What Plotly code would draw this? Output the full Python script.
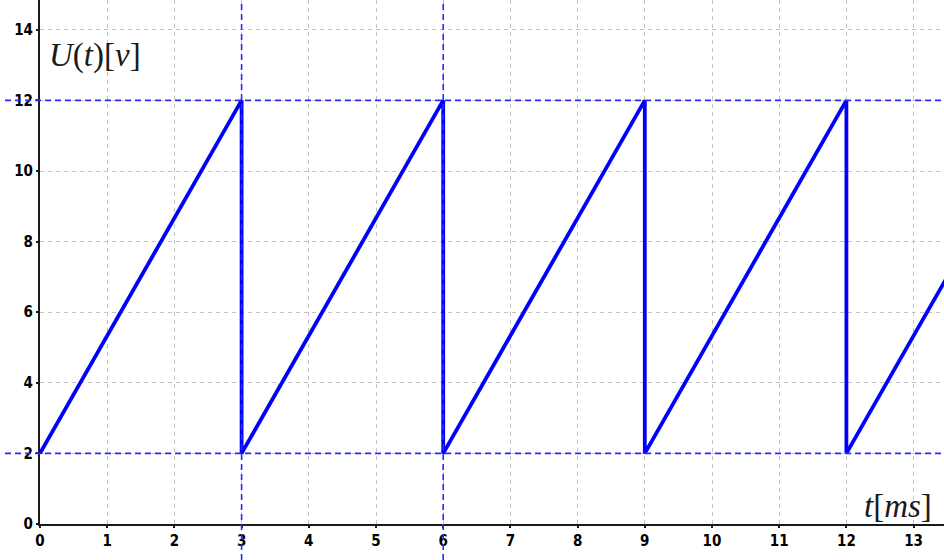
import plotly.graph_objects as go

# Sawtooth voltage data (t in ms, U in V)
t_ms = [0, 3, 3, 6, 6, 9, 9, 12, 12, 15]
u_v = [2, 12, 2, 12, 2, 12, 2, 12, 2, 12]

x_ticks = list(range(0, 14))
y_ticks = [0, 2, 4, 6, 8, 10, 12, 14]

ref_levels = [2, 12]       # horizontal dashed reference lines
ref_times = [3, 6]         # vertical dashed reference lines

W, H = 944, 560
ml, mb = 40, 36
pw, ph = W - ml, H - mb
x_max = pw / 67.2
y_max = ph / 35.3

fig = go.Figure()
fig.add_trace(go.Scatter(
    x=t_ms, y=u_v, mode="lines",
    line=dict(color="#0000ff", width=3.8),
    hoverinfo="skip", showlegend=False,
))

shapes = []
for lv in ref_levels:
    shapes.append(dict(type="line", xref="paper", yref="y",
                       x0=(5 - ml) / pw, x1=1, y0=lv, y1=lv,
                       line=dict(color="#2a2aff", width=1.6, dash="6px,4px")))
for tv in ref_times:
    shapes.append(dict(type="line", xref="x", yref="paper",
                       x0=tv, x1=tv, y0=-mb / ph, y1=1,
                       line=dict(color="#2a2aff", width=1.6, dash="6px,4px")))

axis_font = dict(family="DejaVu Sans Condensed, DejaVu Sans", size=15,
                 color="black", weight="bold")

fig.update_layout(
    width=W, height=H,
    margin=dict(l=ml, r=0, t=0, b=mb),
    paper_bgcolor="white", plot_bgcolor="white",
    showlegend=False,
    shapes=shapes,
    xaxis=dict(range=[0, x_max], tickvals=x_ticks, ticktext=[str(v) for v in x_ticks],
               showgrid=True, gridcolor="#c4c4c4", griddash="4px,4px", gridwidth=1,
               showline=True, linecolor="#1a1a1a", linewidth=2,
               ticks="outside", ticklen=2, tickcolor="#1a1a1a", tickwidth=2,
               tickfont=axis_font, zeroline=False, automargin=False),
    yaxis=dict(range=[0, y_max], tickvals=y_ticks, ticktext=[str(v) for v in y_ticks],
               showgrid=True, gridcolor="#c4c4c4", griddash="4px,4px", gridwidth=1,
               showline=True, linecolor="#1a1a1a", linewidth=2,
               ticks="outside", ticklen=2, tickcolor="#1a1a1a", tickwidth=2,
               tickfont=axis_font, zeroline=False, automargin=False),
    annotations=[
        dict(text="<i>U</i>(<i>t</i>)[<i>v</i>]", xref="paper", yref="paper",
             x=(47 - ml) / pw, y=1 - 56 / ph, xanchor="left", yanchor="middle",
             showarrow=False,
             font=dict(family="Liberation Serif", size=33, color="#1a1a1a")),
        dict(text="<i>t</i>[<i>ms</i>]", xref="paper", yref="paper",
             x=(934 - ml) / pw, y=1 - 506 / ph, xanchor="right", yanchor="middle",
             showarrow=False,
             font=dict(family="Liberation Serif", size=33, color="#1a1a1a")),
    ],
)

fig.write_html(
    "out.html",
    config={"displayModeBar": False, "staticPlot": True},
    post_script="document.body.style.margin='0';document.body.style.overflow='hidden';",
)
